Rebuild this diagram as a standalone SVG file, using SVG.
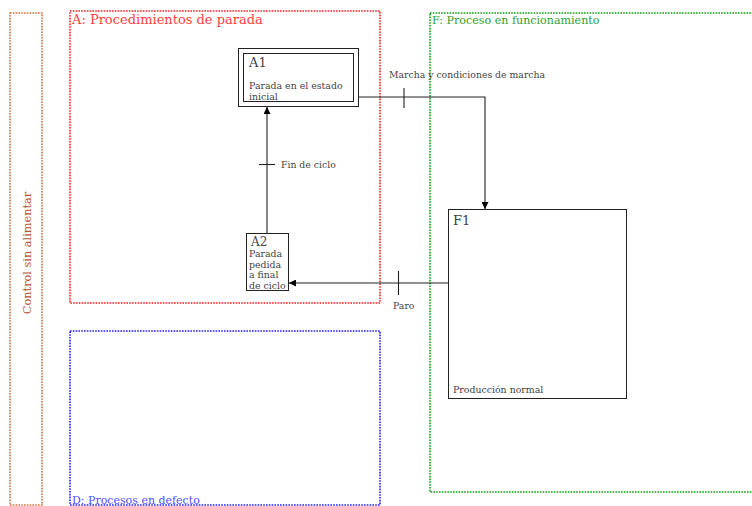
<svg xmlns="http://www.w3.org/2000/svg" width="752" height="506" viewBox="0 0 752 506">
<style>
text{font-family:'DejaVu Serif','Liberation Serif',serif;fill:#444}
.grp{fill:none;stroke-width:1.6;stroke-dasharray:1.6 1.2}
.box{fill:#fff;stroke:#222;stroke-width:1}
.conn{fill:none;stroke:#222;stroke-width:1.1}
.lbl{font-size:9.3px}
.step{font-size:9.4px}
.id{font-size:13px}
</style>
<defs>
<marker id="arr" viewBox="0 0 10 10" refX="10" refY="5" markerWidth="7" markerHeight="7" orient="auto" markerUnits="userSpaceOnUse">
<path d="M0,0 L10,5 L0,10 z" fill="#000"/>
</marker>
</defs>
<rect width="752" height="506" fill="#fff"/>
<g id="ctrl">
<rect class="grp" x="10" y="13" width="32" height="492" stroke="#d0703a"/>
<text transform="translate(31,253) rotate(-90)" text-anchor="middle" font-size="11.3" style="fill:#b5553a">Control sin alimentar</text>
</g>
<g id="A">
<rect class="grp" x="70" y="11" width="310" height="292" stroke="#ff2020"/>
<text x="72" y="24" font-size="13" style="fill:#ff4040">A: Procedimientos de parada</text>
</g>
<g id="D">
<rect class="grp" x="70" y="331" width="310" height="174" stroke="#2020ff"/>
<text x="72" y="504" font-size="11" style="fill:#5050ff">D: Procesos en defecto</text>
</g>
<g id="F">
<rect class="grp" x="430" y="13" width="330" height="479" stroke="#10a010"/>
<text x="432" y="24" font-size="11.1" style="fill:#30a030">F: Proceso en funcionamiento</text>
</g>
<g id="connectors">
<polyline class="conn" points="358,97 485,97 485,209" marker-end="url(#arr)"/>
<line class="conn" x1="404" y1="88" x2="404" y2="108"/>
<text class="lbl" x="389" y="78">Marcha y condiciones de marcha</text>
<line class="conn" x1="267" y1="233" x2="267" y2="107" marker-end="url(#arr)"/>
<line class="conn" x1="259" y1="164.5" x2="275" y2="164.5"/>
<text class="lbl" x="281" y="168">Fin de ciclo</text>
<line class="conn" x1="448" y1="283" x2="289" y2="283" marker-end="url(#arr)"/>
<line class="conn" x1="398.5" y1="271" x2="398.5" y2="295"/>
<text class="lbl" x="393" y="309">Paro</text>
</g>
<g id="A1">
<rect class="box" x="238.5" y="48.5" width="120" height="58" stroke-width="1.3"/>
<rect class="box" x="243.5" y="53.5" width="110" height="48" stroke-width="1.3"/>
<text class="id" x="249" y="67">A1</text>
<text class="step" x="249" y="89">Parada en el estado</text>
<text class="step" x="249" y="100">inicial</text>
</g>
<g id="A2">
<rect class="box" x="246.5" y="233.5" width="42" height="57"/>
<text x="251" y="246" font-size="12">A2</text>
<text class="step" x="249" y="257" font-size="9">Parada</text>
<text class="step" x="249" y="267.5" font-size="9">pedida</text>
<text class="step" x="249" y="278" font-size="9">a final</text>
<text class="step" x="249" y="288.5" font-size="9">de ciclo</text>
</g>
<g id="F1">
<rect class="box" x="448.5" y="209.5" width="178" height="189"/>
<text class="id" x="453" y="225">F1</text>
<text class="step" x="453" y="393">Producción normal</text>
</g>
</svg>
